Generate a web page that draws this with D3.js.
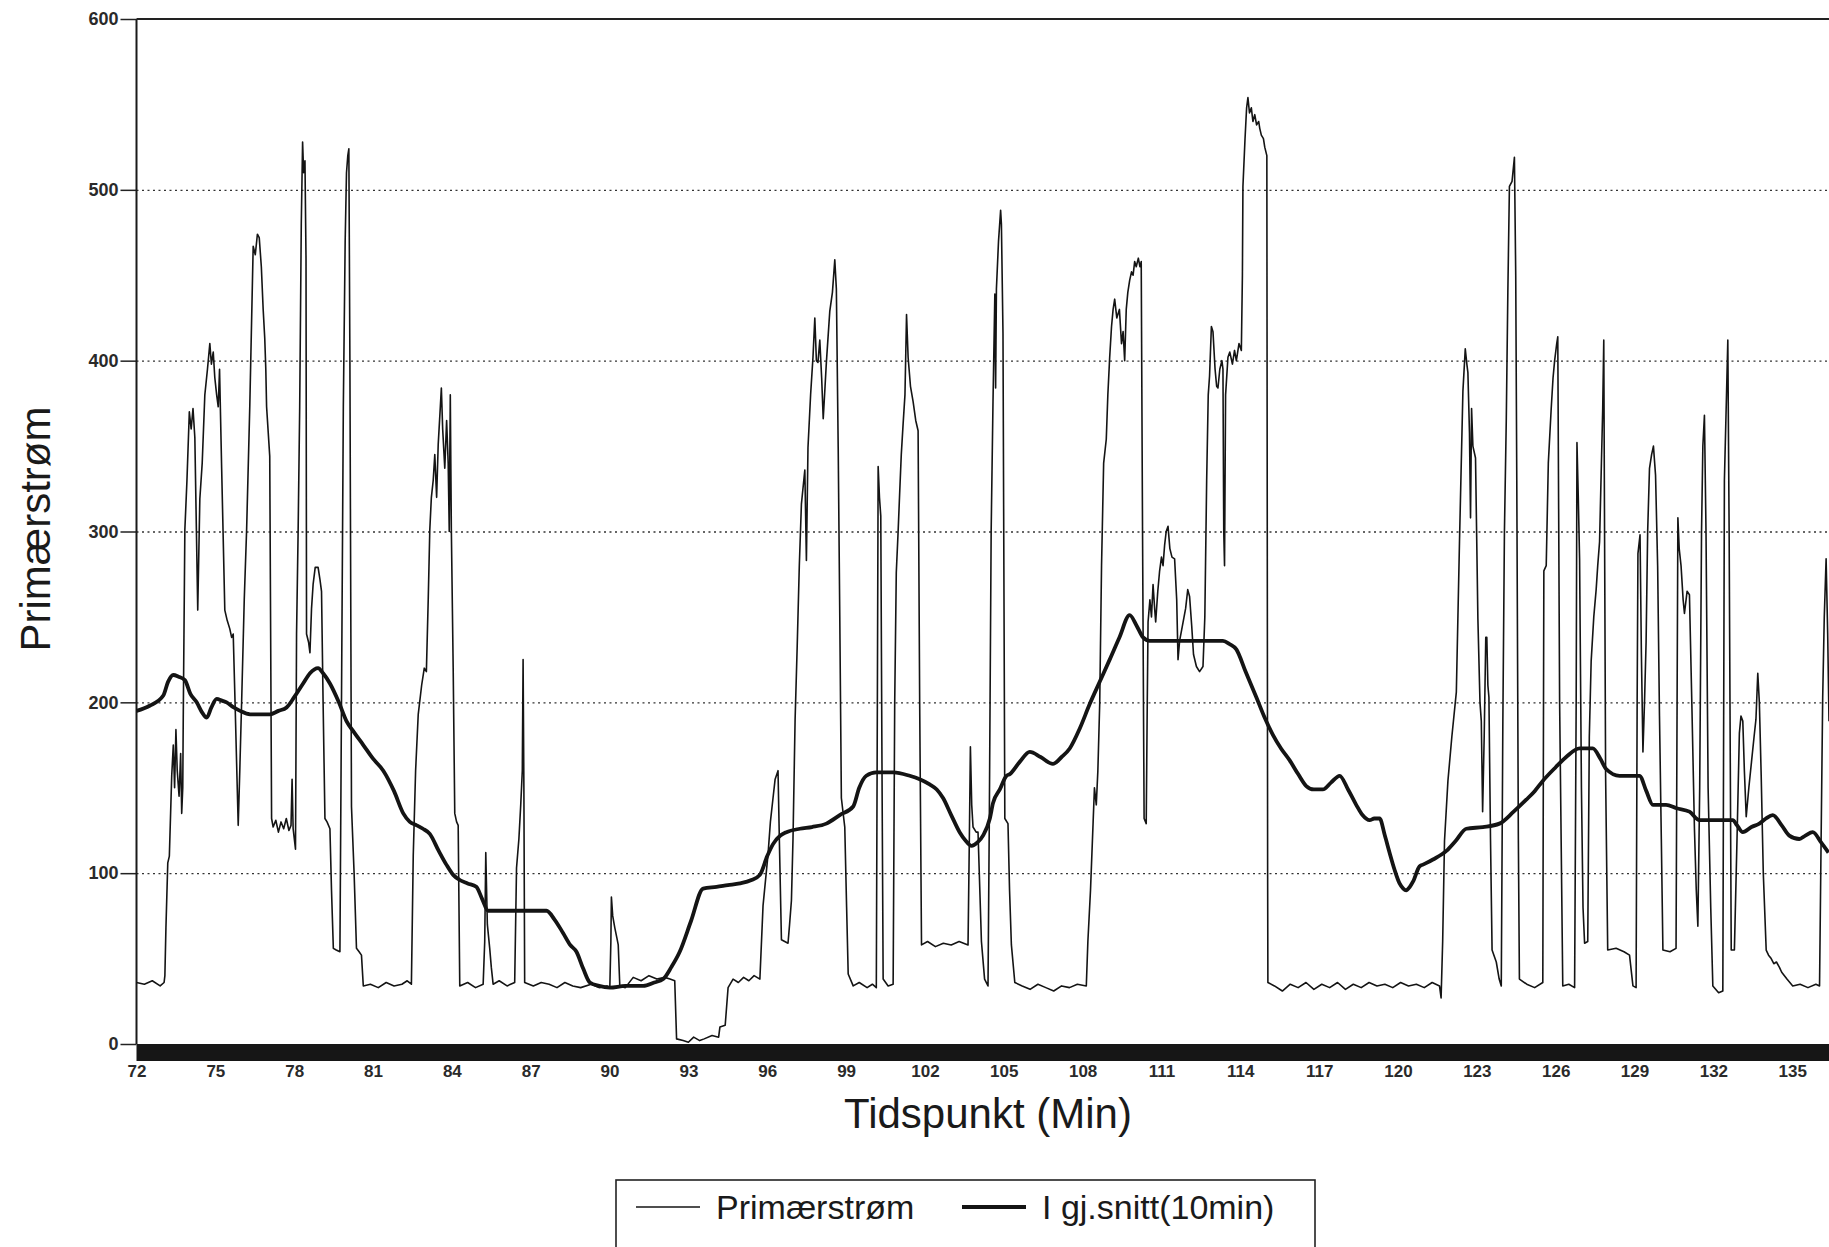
<!DOCTYPE html>
<meta charset="utf-8">
<style>
body { margin: 0; background: #fff; }
svg { display: block; }
text { font-family: "Liberation Sans", Arial, sans-serif; fill: #1a1a1a; }
.grid line { stroke: #333; stroke-width: 1.4px; stroke-dasharray: 2,3.5; }
.grid path { display: none; }
.yaxis path, .xaxis path { display: none; }
.yaxis line { stroke: #222; stroke-width: 1.5px; }
</style>
<body>
<script src="https://d3js.org/d3.v7.min.js"></script>
<script>

// Primærstrøm, [minutt, verdi]
var primaer = [
  [72.00,36],[72.3,35],[72.6,37],[72.9,34],[73.05,36],
  [73.08,40],[73.12,68],[73.19,106],[73.25,110],[73.34,157],[73.40,175],[73.45,150],[73.50,184],[73.55,160],[73.62,145],[73.68,170],[73.72,135],[73.76,150],
  [73.78,193],[73.84,301],[73.92,330],[74.01,370],[74.08,360],[74.15,372],[74.22,355],[74.28,300],[74.33,254],[74.41,319],[74.5,340],[74.6,380],[74.7,395],[74.79,410],[74.85,398],[74.92,405],[74.98,390],[75.05,380],[75.11,373],[75.16,395],[75.24,337],[75.36,254],[75.45,248],[75.55,243],[75.62,238],[75.68,240],[75.75,200],[75.87,128],
  [75.93,160],[76.00,200],[76.1,260],[76.19,301],[76.31,373],[76.44,467],[76.52,462],[76.60,474],[76.67,472],[76.75,455],[76.82,430],[76.88,413],[76.92,395],[76.95,373],[77.07,344],[77.14,132],
  [77.20,127],[77.3,131],[77.4,124],[77.5,130],[77.6,126],[77.7,132],[77.8,125],[77.88,128],[77.92,155],[77.96,126],[78.05,114],
  [78.09,240],[78.15,300],[78.21,373],[78.27,480],[78.32,528],[78.36,510],[78.41,517],[78.45,460],[78.47,240],[78.55,235],[78.60,229],[78.66,255],[78.72,269],[78.80,279],[78.91,279],[78.98,272],[79.04,265],[79.10,200],[79.17,132],[79.25,130],[79.36,126],[79.42,90],[79.49,56],[79.6,55],[79.74,54],
  [79.80,200],[79.87,373],[79.94,470],[79.99,510],[80.04,520],[80.08,524],[80.12,400],[80.18,139],[80.28,100],[80.37,56],[80.47,54],[80.56,52],[80.63,34],
  [80.9,35],[81.2,33],[81.5,36],[81.8,34],[82.1,35],[82.3,37],[82.46,35],
  [82.53,110],[82.62,160],[82.72,193],[82.85,210],[82.95,220],[83.03,218],[83.10,260],[83.16,301],[83.22,320],[83.29,330],[83.35,345],[83.42,320],[83.48,351],[83.55,370],[83.60,384],[83.65,360],[83.73,337],[83.80,365],[83.86,340],[83.90,300],[83.94,380],[83.98,301],[84.05,220],[84.11,135],[84.18,130],[84.24,128],[84.30,34],
  [84.6,36],[84.9,33],[85.19,35],[85.25,60],[85.29,112],[85.35,70],[85.44,56],[85.50,45],[85.57,35],
  [85.8,37],[86.1,34],[86.39,36],[86.46,103],[86.55,120],[86.62,140],[86.68,160],[86.71,225],[86.74,150],[86.77,36],
  [87.1,34],[87.4,36],[87.7,35],[88.0,33],[88.3,36],[88.6,34],[88.9,33],
  [89.3,35],[89.6,33],[89.9,34],[90.01,33],[90.05,60],[90.07,86],[90.12,75],[90.20,68],[90.28,62],[90.33,58],[90.39,34],
  [90.6,33],[90.9,39],[91.2,37],[91.5,40],[91.8,38],[92.1,39],[92.3,38],[92.48,37],
  [92.55,3],[92.8,2],[93.0,1],[93.2,4],[93.43,2],[93.6,3],[93.9,5],[94.15,4],[94.20,10],[94.4,11],[94.51,33],
  [94.7,38],[94.9,36],[95.1,39],[95.3,37],[95.5,40],[95.72,38],[95.84,81],[96.03,111],[96.12,130],[96.22,144],[96.30,155],[96.41,160],[96.46,120],[96.54,61],[96.79,59],[96.85,70],[96.92,84],[96.98,120],[97.06,190],[97.14,233],[97.22,280],[97.30,316],[97.43,336],[97.49,283],[97.55,349],[97.65,380],[97.74,402],[97.81,425],[97.87,400],[97.93,399],[98.00,412],[98.07,390],[98.13,366],[98.20,385],[98.25,399],[98.38,429],[98.48,440],[98.57,459],[98.63,442],[98.70,349],[98.76,250],[98.82,144],[98.95,127],[99.02,80],[99.08,41],[99.27,34],
  [99.5,36],[99.8,33],[100.0,35],[100.15,33],[100.19,200],[100.22,338],[100.27,320],[100.32,309],[100.37,150],[100.41,38],[100.6,34],[100.79,35],[100.85,200],[100.91,276],[100.98,300],[101.04,323],[101.10,345],[101.17,363],[101.24,380],[101.30,427],[101.36,402],[101.45,385],[101.55,376],[101.65,365],[101.74,359],[101.80,200],[101.87,58],
  [102.1,60],[102.4,57],[102.7,59],[103.0,58],[103.3,60],[103.64,58],[103.69,120],[103.73,174],[103.78,140],[103.83,127],[103.95,124],[104.02,124],[104.15,60],[104.27,38],[104.40,34],
  [104.45,132],[104.52,300],[104.59,376],[104.66,439],[104.69,384],[104.72,442],[104.80,470],[104.88,488],[104.91,480],[104.97,416],[105.04,132],[105.16,129],[105.22,90],[105.29,58],[105.42,36],
  [105.7,34],[106.0,32],[106.3,35],[106.6,33],[106.9,31],[107.2,34],[107.5,33],[107.8,35],[108.14,34],
  [108.2,60],[108.3,90],[108.40,130],[108.45,150],[108.52,140],[108.58,160],[108.65,199],[108.72,280],[108.80,340],[108.90,354],[108.96,380],[109.03,402],[109.10,420],[109.16,430],[109.22,436],[109.3,425],[109.4,430],[109.48,410],[109.54,417],[109.60,400],[109.66,430],[109.72,440],[109.79,447],[109.86,452],[109.92,450],[109.98,458],[110.04,455],[110.12,460],[110.18,455],[110.23,458],[110.28,300],[110.34,132],[110.42,129],[110.46,200],[110.49,247],[110.56,260],[110.62,250],[110.68,269],[110.74,255],[110.78,247],[110.86,265],[110.93,277],[111.00,285],[111.06,280],[111.12,292],[111.18,300],[111.25,303],[111.32,290],[111.40,285],[111.50,284],[111.58,260],[111.63,225],[111.69,236],[111.80,245],[111.92,255],[112.00,266],[112.07,262],[112.15,245],[112.22,228],[112.33,221],[112.45,218],[112.58,221],[112.65,250],[112.72,330],[112.78,380],[112.83,391],[112.90,420],[112.96,417],[113.04,395],[113.10,385],[113.15,384],[113.22,395],[113.30,400],[113.34,395],[113.37,300],[113.40,280],[113.44,380],[113.53,402],[113.60,405],[113.70,398],[113.78,406],[113.85,400],[113.95,410],[114.04,406],[114.08,450],[114.10,502],[114.18,530],[114.24,548],[114.29,554],[114.35,545],[114.42,548],[114.48,540],[114.55,544],[114.62,538],[114.70,540],[114.74,536],[114.80,532],[114.88,530],[114.93,525],[115.01,520],[115.04,100],[115.05,36],
  [115.3,34],[115.6,31],[115.9,35],[116.2,33],[116.5,36],[116.8,32],[117.1,35],[117.4,33],[117.7,36],[118.0,32],[118.3,35],[118.6,33],[118.9,36],[119.2,34],[119.5,35],[119.8,33],[120.1,36],[120.4,34],[120.7,35],[121.0,33],[121.3,36],[121.58,34],
  [121.64,27],[121.70,60],[121.77,119],[121.90,154],[122.05,180],[122.22,206],[122.34,294],[122.47,382],[122.56,407],[122.62,398],[122.66,393],[122.72,358],[122.76,308],[122.80,372],[122.85,350],[122.95,343],[123.04,249],[123.12,200],[123.17,189],[123.22,136],[123.28,180],[123.34,238],[123.38,238],[123.42,210],[123.46,203],[123.52,120],[123.58,55],[123.74,48],[123.85,38],[123.93,34],
  [123.99,189],[124.05,300],[124.12,365],[124.18,440],[124.24,502],[124.34,505],[124.43,519],[124.48,450],[124.52,330],[124.58,120],[124.62,38],
  [124.9,35],[125.2,33],[125.51,36],[125.55,277],[125.64,280],[125.72,340],[125.83,372],[125.90,390],[125.96,400],[126.04,410],[126.08,414],[126.15,200],[126.27,34],
  [126.5,35],[126.72,33],[126.78,200],[126.81,352],[126.86,320],[126.91,284],[126.98,150],[127.04,80],[127.10,59],[127.22,60],
  [127.28,180],[127.35,224],[127.45,250],[127.54,266],[127.60,280],[127.67,294],[127.74,340],[127.79,372],[127.83,412],[127.86,300],[127.90,157],[127.98,55],[128.30,56],[128.6,54],[128.81,52],[128.94,34],[129.06,33],
  [129.10,200],[129.13,287],[129.21,298],[129.26,230],[129.32,171],[129.38,200],[129.44,235],[129.50,300],[129.57,337],[129.65,345],[129.72,350],[129.80,333],[129.88,280],[129.95,192],[130.02,120],[130.08,55],[130.35,54],[130.58,56],
  [130.62,200],[130.65,308],[130.70,290],[130.77,280],[130.85,260],[130.90,252],[131.00,265],[131.09,263],[131.18,200],[131.28,126],[131.35,90],[131.41,69],[131.48,150],[131.55,300],[131.60,350],[131.66,368],[131.72,300],[131.80,150],[131.90,80],[131.98,34],[132.2,30],[132.36,31],
  [132.42,330],[132.50,380],[132.55,412],[132.60,300],[132.68,55],[132.80,55],[132.90,120],[132.99,182],[133.05,192],[133.12,189],[133.18,160],[133.25,133],[133.35,150],[133.45,165],[133.55,180],[133.62,190],[133.69,217],[133.75,200],[133.82,157],[133.90,100],[134.01,55],[134.1,52],[134.2,50],[134.3,47],[134.4,48],[134.51,45],[134.6,42],[134.8,38],[135.02,34],[135.3,35],[135.6,33],[135.9,35],[136.04,34],[136.10,120],[136.16,203],[136.22,250],[136.29,284],[136.35,240],[136.40,189]
];

// I gj.snitt(10min), [minutt, verdi]
var snitt = [
  [72.0,195],[72.5,198],[73.02,204],[73.2,212],[73.40,216],[73.6,215],[73.84,213],[74.05,205],[74.29,200],[74.5,194],[74.67,191],[74.85,197],[75.05,202],[75.25,201],[75.43,200],[75.7,197],[75.94,195],[76.32,193],[76.7,193],[77.08,193],[77.4,195],[77.71,197],[78.0,203],[78.34,211],[78.6,217],[78.91,220],[79.1,217],[79.36,211],[79.7,200],[79.99,189],[80.3,182],[80.63,175],[81.0,167],[81.39,160],[81.8,148],[82.15,135],[82.4,130],[82.66,128],[82.9,126],[83.16,123],[83.5,113],[83.79,105],[84.05,99],[84.30,96],[84.6,94],[84.93,92],[85.15,85],[85.38,78],[86.0,78],[86.8,78],[87.60,78],[87.9,73],[88.23,65],[88.5,58],[88.74,54],[89.0,44],[89.25,36],[89.6,34],[90.01,33],[90.6,34],[91.28,34],[91.7,36],[92.04,38],[92.35,45],[92.67,54],[93.1,72],[93.56,91],[94.07,92],[94.5,93],[94.96,94],[95.4,96],[95.72,99],[96.0,110],[96.22,117],[96.5,122],[96.73,124],[97.24,126],[97.7,127],[98.25,129],[98.76,134],[99.27,139],[99.5,150],[99.77,157],[100.15,159],[100.8,159],[101.42,157],[101.8,155],[102.18,152],[102.45,149],[102.69,144],[103.0,134],[103.32,124],[103.55,119],[103.77,116],[104.0,118],[104.21,122],[104.47,132],[104.59,141],[104.85,149],[105.10,157],[105.23,158],[105.6,165],[105.99,171],[106.4,168],[106.87,164],[107.2,168],[107.51,173],[107.9,185],[108.27,199],[108.65,212],[109.03,225],[109.4,238],[109.79,251],[110.05,245],[110.30,238],[110.55,236],[111.5,236],[112.5,236],[113.34,236],[113.6,234],[113.85,231],[114.2,218],[114.61,203],[114.9,192],[115.24,181],[115.55,173],[115.88,166],[116.2,158],[116.51,151],[116.8,149],[117.14,149],[117.45,153],[117.78,157],[118.1,149],[118.41,140],[118.65,134],[118.92,131],[119.1,132],[119.30,132],[119.5,122],[119.68,112],[119.87,102],[120.06,94],[120.2,91],[120.31,90],[120.45,92],[120.57,95],[120.82,104],[120.95,105],[121.33,108],[121.84,113],[122.2,119],[122.60,126],[123.23,127],[123.86,129],[124.4,136],[124.88,143],[125.2,148],[125.51,154],[126.0,162],[126.40,168],[126.91,173],[127.41,173],[127.7,167],[127.92,161],[128.43,157],[129.19,157],[129.45,148],[129.70,140],[130.20,140],[130.6,138],[131.09,136],[131.47,131],[132.23,131],[132.74,131],[132.9,128],[133.12,124],[133.45,127],[133.75,129],[134.0,132],[134.26,134],[134.6,128],[134.89,122],[135.27,120],[135.5,122],[135.78,124],[136.1,118],[136.38,112]
];

var xTicks = [72,75,78,81,84,87,90,93,96,99,102,105,108,111,114,117,120,123,126,129,132,135];
var yTicks = [0,100,200,300,400,500,600];
var gridTicks = [100,200,300,400,500];

var width = 1829,
    height = 1247;

var margin = { top: 19, left: 136.5, bottom: 1044 };

var svg = d3.select("body")
    .append("svg")
    .attr("width", width)
    .attr("height", height);

var x = d3.scaleLinear().domain([72, 136.4]).range([margin.left, width]);
var y = d3.scaleLinear().domain([0, 600]).range([margin.bottom, margin.top]);

// dotted grid
svg.append("g")
    .attr("class", "grid")
    .attr("transform", "translate(" + margin.left + ",0)")
    .call(d3.axisLeft(y).tickValues(gridTicks).tickSize(-(width - margin.left)).tickFormat(""));

// y axis with short ticks
svg.append("g")
    .attr("class", "yaxis")
    .attr("transform", "translate(" + margin.left + ",0)")
    .call(d3.axisLeft(y).tickValues(yTicks).tickSize(16).tickPadding(2))
  .selectAll("text")
    .style("font-size", "18px")
    .style("font-weight", "bold")
    .style("fill", "#2a2a2a");

// frame: left axis line and top line
svg.append("line")
    .attr("x1", margin.left).attr("x2", margin.left)
    .attr("y1", y(600)).attr("y2", y(0))
    .attr("stroke", "#1a1a1a").attr("stroke-width", 2);
svg.append("line")
    .attr("x1", margin.left).attr("x2", width)
    .attr("y1", y(600)).attr("y2", y(600))
    .attr("stroke", "#222").attr("stroke-width", 2);

// dense black band of the x axis
svg.append("rect")
    .attr("x", margin.left)
    .attr("y", y(0))
    .attr("width", width - margin.left)
    .attr("height", 17)
    .attr("fill", "#161616");

svg.append("g")
    .attr("class", "xaxis")
    .attr("transform", "translate(0," + (y(0) + 17) + ")")
    .call(d3.axisBottom(x).tickValues(xTicks).tickSize(0).tickPadding(4))
  .selectAll("text")
    .style("font-size", "17px")
    .style("font-weight", "bold")
    .style("fill", "#2a2a2a");

var line = d3.line()
    .x(function(d) { return x(d[0]); })
    .y(function(d) { return y(d[1]); });

svg.append("path")
    .datum(primaer)
    .attr("fill", "none")
    .attr("stroke", "#141414")
    .attr("stroke-width", 1.6)
    .attr("stroke-linejoin", "round")
    .attr("d", line);

svg.append("path")
    .datum(snitt)
    .attr("fill", "none")
    .attr("stroke", "#141414")
    .attr("stroke-width", 3.8)
    .attr("stroke-linejoin", "round")
    .attr("d", line.curve(d3.curveMonotoneX));

// axis titles
svg.append("text")
    .attr("x", 988)
    .attr("y", 1128)
    .attr("text-anchor", "middle")
    .style("font-size", "42px")
    .text("Tidspunkt (Min)");

svg.append("text")
    .attr("transform", "translate(50,529) rotate(-90)")
    .attr("text-anchor", "middle")
    .style("font-size", "42px")
    .text("Primærstrøm");

// legend
var legend = svg.append("g");
legend.append("rect")
    .attr("x", 616).attr("y", 1180)
    .attr("width", 699).attr("height", 100)
    .attr("fill", "none")
    .attr("stroke", "#222").attr("stroke-width", 1.6);

var items = [
  { name: "Primærstrøm", w: 1.4, x: 636 },
  { name: "I gj.snitt(10min)", w: 3.8, x: 962 }
];
items.forEach(function(d) {
  legend.append("line")
      .attr("x1", d.x).attr("x2", d.x + 64)
      .attr("y1", 1207).attr("y2", 1207)
      .attr("stroke", "#141414").attr("stroke-width", d.w);
  legend.append("text")
      .attr("x", d.x + 80)
      .attr("y", 1219)
      .style("font-size", "34px")
      .text(d.name);
});

</script>
</body>
